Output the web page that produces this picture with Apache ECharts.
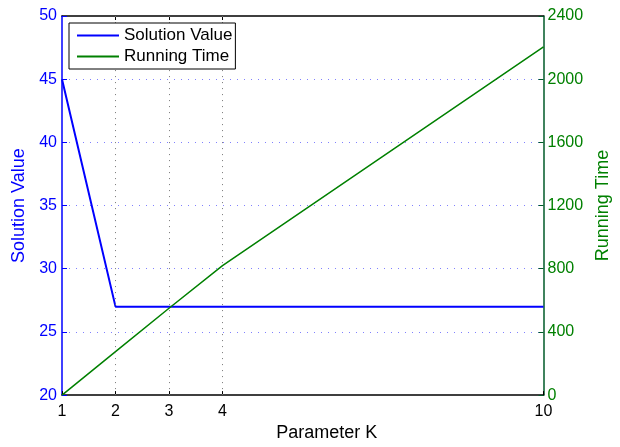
<!DOCTYPE html>
<html>
<head>
<meta charset="utf-8">
<script src="https://cdn.jsdelivr.net/npm/echarts@6/dist/echarts.min.js"></script>
<style>
  html, body { margin: 0; padding: 0; background: #fff; }
  #chart { width: 620px; height: 447px; }
</style>
</head>
<body>
<div id="chart"></div>
<script>
// Parameter K values and the two measured quantities
const kValues = [1, 2, 3, 4, 10];
const solutionValue = [45, 27, 27, 27, 27];
const runningTime = [0, 275, 550, 820, 2205];

// Axis tick settings
const kTicks = [1, 2, 3, 4, 10];
const kGridLines = [2, 3, 4];
const leftRange = [20, 50, 5];
const rightRange = [0, 2400, 400];

const FONT = 'Liberation Sans, Arial, Helvetica, sans-serif';
const BLUE = '#0000ff';
const GREEN = '#008000';

const chart = echarts.init(document.getElementById('chart'), null, { renderer: 'canvas' });

const toPairs = (xs, ys) => xs.map((x, i) => [x, ys[i]]);

chart.setOption({
  animation: false,
  backgroundColor: '#fff',
  textStyle: { fontFamily: FONT },
  grid: { left: 62, right: 74, top: 16, bottom: 50, containLabel: false },
  legend: {
    data: ['Solution Value', 'Running Time'],
    orient: 'vertical',
    left: 69,
    top: 23,
    z: 20,
    zlevel: 1,
    backgroundColor: '#fff',
    borderColor: '#000',
    borderWidth: 1,
    borderRadius: 0,
    padding: [4, 3, 4, 8],
    itemGap: 4,
    itemWidth: 42,
    itemHeight: 2,
    icon: 'rect',
    textStyle: { fontFamily: FONT, fontSize: 17, color: '#000' }
  },
  xAxis: [
    {
      type: 'value',
      min: 1,
      max: 10,
      position: 'bottom',
      name: 'Parameter K',
      nameLocation: 'middle',
      nameGap: 26,
      nameTextStyle: { fontFamily: FONT, fontSize: 18, color: '#000', padding: [0, 0, 0, 48] },
      axisLine: { show: true, lineStyle: { color: '#000', width: 1.5 } },
      axisTick: { show: true, inside: true, length: 4, customValues: kTicks, lineStyle: { color: '#000' } },
      axisLabel: { show: true, customValues: kTicks, margin: 8, fontFamily: FONT, fontSize: 16, color: '#000' },
      splitLine: { show: false }
    },
    {
      type: 'value',
      min: 1,
      max: 10,
      position: 'top',
      axisLine: { show: true, lineStyle: { color: '#000', width: 1.5 } },
      axisTick: { show: true, inside: true, length: 4, customValues: kGridLines, lineStyle: { color: '#000' } },
      axisLabel: { show: false },
      splitLine: { show: false }
    }
  ],
  yAxis: [
    {
      type: 'value',
      min: leftRange[0],
      max: leftRange[1],
      interval: leftRange[2],
      position: 'left',
      name: 'Solution Value',
      nameLocation: 'middle',
      nameRotate: 90,
      nameGap: 30,
      nameTextStyle: { fontFamily: FONT, fontSize: 18, color: BLUE },
      axisLine: { show: true, lineStyle: { color: BLUE, width: 1.5 } },
      axisTick: { show: true, inside: true, length: 5, lineStyle: { color: BLUE } },
      axisLabel: { margin: 5, fontFamily: FONT, fontSize: 16, color: BLUE },
      splitLine: { show: true, showMinLine: false, showMaxLine: false, lineStyle: { color: '#8080ff', type: [1, 6], width: 1 } }
    },
    {
      type: 'value',
      min: rightRange[0],
      max: rightRange[1],
      interval: rightRange[2],
      position: 'right',
      name: 'Running Time',
      nameLocation: 'middle',
      nameRotate: 90,
      nameGap: 47,
      nameTextStyle: { fontFamily: FONT, fontSize: 18, color: GREEN },
      axisLine: { show: true, lineStyle: { color: '#005a28', width: 1.5 } },
      axisTick: { show: true, inside: true, length: 5, lineStyle: { color: '#005a28' } },
      axisLabel: { margin: 4, fontFamily: FONT, fontSize: 16, color: GREEN, formatter: v => String(v) },
      splitLine: { show: false }
    }
  ],
  series: [
    {
      // vertical dotted grid lines at the intermediate K values
      name: 'grid',
      type: 'line',
      xAxisIndex: 0,
      yAxisIndex: 0,
      data: [],
      silent: true,
      z: 1,
      markLine: {
        silent: true,
        symbol: 'none',
        label: { show: false },
        lineStyle: { color: '#777', type: [1, 5], width: 1 },
        data: kGridLines.map(v => ({ xAxis: v }))
      }
    },
    {
      name: 'Solution Value',
      type: 'line',
      xAxisIndex: 0,
      yAxisIndex: 0,
      data: toPairs(kValues, solutionValue),
      showSymbol: false,
      symbol: 'none',
      color: BLUE,
      lineStyle: { color: BLUE, width: 2 },
      z: 3
    },
    {
      name: 'Running Time',
      type: 'line',
      xAxisIndex: 0,
      yAxisIndex: 1,
      data: toPairs(kValues, runningTime),
      showSymbol: false,
      symbol: 'none',
      color: GREEN,
      lineStyle: { color: GREEN, width: 1.5 },
      z: 3
    }
  ]
});
</script>
</body>
</html>
